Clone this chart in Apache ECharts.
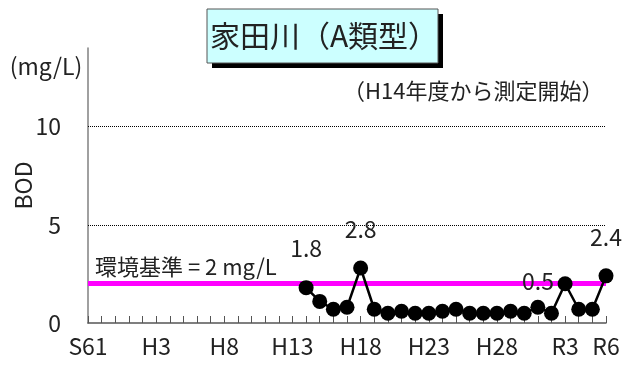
<!DOCTYPE html>
<html>
<head>
<meta charset="utf-8">
<script src="https://cdn.jsdelivr.net/npm/echarts@6/dist/echarts.min.js"></script>
<style>
  html, body { margin: 0; padding: 0; background: #fff; }
  #chart { width: 627px; height: 365px; }
</style>
</head>
<body>
<div id="chart"></div>
<script>
// 年度 (S61 ～ R6)
const years = [
  'S61', 'S62', 'S63',
  'H1', 'H2', 'H3', 'H4', 'H5', 'H6', 'H7', 'H8', 'H9', 'H10',
  'H11', 'H12', 'H13', 'H14', 'H15', 'H16', 'H17', 'H18', 'H19', 'H20',
  'H21', 'H22', 'H23', 'H24', 'H25', 'H26', 'H27', 'H28', 'H29', 'H30',
  'R1', 'R2', 'R3', 'R4', 'R5', 'R6'
]
// BOD 測定値 (H14年度から)
const bodValues = [
  null, null, null,
  null, null, null, null, null, null, null, null, null, null,
  null, null, null, 1.8, 1.1, 0.7, 0.8, 2.8, 0.7, 0.5,
  0.6, 0.5, 0.5, 0.6, 0.7, 0.5, 0.5, 0.5, 0.6, 0.5,
  0.8, 0.5, 2.0, 0.7, 0.7, 2.4
]
const shownTicks = ['S61', 'H3', 'H8', 'H13', 'H18', 'H23', 'H28', 'R3', 'R6']
const labeledYears = ['H14', 'H18', 'R2', 'R6']
const standard = 2
const gridValues = [5, 10]

const FONT = '"Noto Sans CJK JP", "Noto Sans", sans-serif'
const chart = echarts.init(document.getElementById('chart'))

const seriesData = bodValues.map((v, i) => {
  if (!labeledYears.includes(years[i])) return v
  // R2 の値ラベルは点の左上に置く
  const label = years[i] === 'R2'
    ? { show: true, position: [-22, -36] }
    : { show: true, position: 'top', distance: 20 }
  return { value: v, label }
})

const option = {
  animation: false,
  textStyle: { fontFamily: FONT },
  grid: { left: 88, right: 21, top: 48, bottom: 42, containLabel: false, outerBoundsMode: 'none' },
  graphic: [
    { type: 'rect', shape: { x: 212, y: 14, width: 231, height: 54 }, style: { fill: '#000' } },
    { type: 'rect', shape: { x: 207, y: 9, width: 231, height: 54 }, style: { fill: '#ccffff', stroke: '#555', lineWidth: 1 } },
    { type: 'text', x: 324, y: 36, style: { text: '家田川（A類型）', font: '30px ' + FONT, fill: '#222', align: 'center', verticalAlign: 'middle' } },
    { type: 'text', x: 46, y: 66, style: { text: '(mg/L)', font: '23px ' + FONT, fill: '#222', align: 'center', verticalAlign: 'middle' } },
    { type: 'text', x: 343, y: 91, style: { text: '（H14年度から測定開始）', font: '22px ' + FONT, fill: '#222', align: 'left', verticalAlign: 'middle' } },
    { type: 'text', x: 95, y: 267, style: { text: '環境基準 = 2 mg/L', font: '22px ' + FONT, fill: '#222', align: 'left', verticalAlign: 'middle' } }
  ],
  xAxis: {
    type: 'category',
    data: years,
    boundaryGap: false,
    axisLine: { lineStyle: { color: '#555', width: 1.5 } },
    axisTick: { show: true, inside: true, length: 7, interval: 0, lineStyle: { color: '#555' } },
    axisLabel: {
      interval: (i, v) => shownTicks.includes(v),
      color: '#222',
      fontSize: 23,
      margin: 12,
      fontFamily: FONT
    },
    splitLine: { show: false }
  },
  yAxis: {
    type: 'value',
    min: 0,
    max: 14,
    interval: 5,
    name: 'BOD',
    nameLocation: 'middle',
    nameGap: 53,
    nameMoveOverlap: false,
    nameRotate: 90,
    nameTextStyle: { fontSize: 23, color: '#222', fontFamily: FONT },
    axisLine: { show: true, lineStyle: { color: '#808080', width: 1.5 } },
    axisTick: { show: false },
    axisLabel: {
      formatter: v => (v % 5 === 0 ? String(v) : ''),
      color: '#222',
      fontSize: 23,
      margin: 27,
      fontFamily: FONT
    },
    splitLine: { show: false }
  },
  series: [
    {
      // 目盛線と環境基準線
      type: 'line',
      data: [],
      z: 1,
      markLine: {
        silent: true,
        symbol: 'none',
        label: { show: false },
        data: [
          ...gridValues.map(g => ({ yAxis: g, lineStyle: { type: 'dotted', color: '#000', width: 1 } })),
          { yAxis: standard, lineStyle: { type: 'solid', color: '#ff00ff', width: 5 } }
        ]
      }
    },
    {
      type: 'line',
      data: seriesData,
      connectNulls: false,
      showAllSymbol: true,
      symbol: 'circle',
      symbolSize: 15,
      itemStyle: { color: '#000' },
      lineStyle: { color: '#000', width: 2.5 },
      label: { color: '#222', fontSize: 23, fontFamily: FONT },
      labelLayout: { hideOverlap: false },
      z: 5
    }
  ]
}

chart.setOption(option)
</script>
</body>
</html>
